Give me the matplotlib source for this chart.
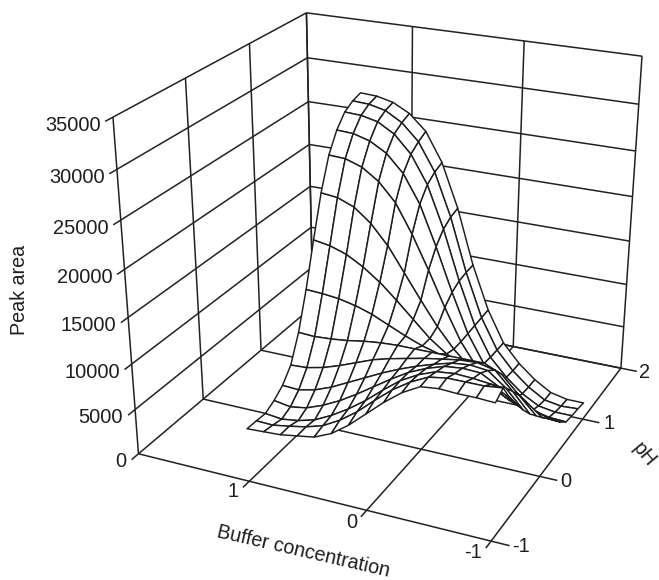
import numpy as np
import matplotlib
matplotlib.use("Agg")
import matplotlib.pyplot as plt
from mpl_toolkits.mplot3d import Axes3D  # noqa

plt.rcParams['font.family'] = ['Liberation Sans', 'DejaVu Sans']

W, H = 659, 580
INK = '#222222'

buffer_ticks = [1, 0, -1]
ph_ticks = [-1, 0, 1, 2]
area_ticks = [0, 5000, 10000, 15000, 20000, 25000, 30000, 35000]

# Mesh positions: coded buffer concentration and pH, 15 x 15
buffer_vals = [1 - k / 7 for k in range(15)]
ph_vals = [-1 + k / 7 for k in range(15)]

# Peak area: rows = pH, columns = buffer concentration
peak_area = np.array([
 [5800,5900,6000,6300,6600,7400,8700,10300,11900,13300,14300,14500,14400,14400,14300],
 [5750,5700,6000,6350,6900,7900,9200,10800,12300,13500,14400,14700,14700,14700,14900],
 [5650,5450,5700,6200,7100,8200,9500,11000,12400,13400,14100,14300,14200,14000,13000],
 [6200,5900,6200,6900,7800,8900,10100,11300,12400,13200,13800,14000,13900,12900,11500],
 [7000,6900,7300,8000,8900,9800,10700,11500,12200,12800,13300,13500,13300,11900,10000],
 [8400,8500,8900,9500,10200,10900,11400,11800,12200,12500,12800,12900,12500,10700,8700],
 [11200,11100,11200,11400,11700,11900,12000,12000,12000,12000,12000,12000,11200,9400,7600],
 [15100,15000,14800,14400,13800,13000,12200,11500,11000,10600,10300,10100,9300,7900,6500],
 [19700,19400,18800,17800,16500,14900,13200,11500,10200,9200,8400,7800,7000,6200,5500],
 [24000,23800,23100,21700,19700,17100,14500,12000,9900,8200,6900,5900,5200,4700,4400],
 [27300,27200,26600,25400,23500,20500,17000,13300,9900,7400,5700,4500,3700,3400,3300],
 [29300,29200,28700,27700,25900,23000,18800,14200,10000,7000,5200,3800,2900,2500,2400],
 [30600,30500,30100,29100,27300,24400,20000,14700,10100,6900,5000,3500,2500,2200,2200],
 [31200,31100,30700,29700,28000,25100,20600,14900,10200,6900,4900,3400,2300,2000,2100],
 [31500,31400,31000,30100,28500,25500,20900,15000,10300,6900,4900,3400,2300,1900,1900],
])

# Camera: fitted to where the box's corners and ticks sit in the reference
cam_world = [(2,-1,0),(1,-1,0),(0,-1,0),(-1,-1,0),(-1,0,0),(-1,1,0),(-1,2,0),
             (2,0,0),(2,1,0),(2,2,0),(2,-1,1),(2,0,1),(2,1,1),(2,2,1),(-1,2,1),
             (-1,2,30/35),(2,-1,30/35)]
cam_pix = [(138,453),(249,481),(367,509),(491,541),(540,477),(582,419),(621,369),
           (204,403),(262,350),(312,304),(113,118),(185,78),(249,43),(307,14),(642,56),
           (639,104),(117,168)]
rows, rhs = [], []
for (a, b, c), (u, v) in zip(cam_world, cam_pix):
    rows.append([a, b, c, 1, 0, 0, 0, 0, -u*a, -u*b, -u*c]); rhs.append(u)
    rows.append([0, 0, 0, 0, a, b, c, 1, -v*a, -v*b, -v*c]); rhs.append(v)
p = np.linalg.lstsq(np.array(rows, float), np.array(rhs, float), rcond=None)[0]
CAM = np.array([p[:4], p[4:8], [p[8], p[9], p[10], 1.0]])
CAM[:, 2] /= 35000.0


def to_pixel(x, y, z):
    u, v, w = CAM @ np.array([x, y, z, 1.0])
    return u / w, v / w


fig = plt.figure(figsize=(W / 100, H / 100), dpi=100, facecolor='white')
ax = fig.add_axes([0, -(W - H) / 2 / H, 1, W / H], projection='3d')
ax.set_axis_off()
ax.computed_zorder = False


def custom_proj():
    ax.apply_aspect()
    inv = ax.transData.inverted().get_matrix()
    flip = np.array([[1, 0, 0], [0, -1, H], [0, 0, 1.0]])
    Q = inv @ flip @ CAM
    s = 1.0 if (Q[2] @ np.array([0, 0, 0, 1.0])) > 0 else -1.0
    return np.array([Q[0], Q[1], [0, 0, 0, -s], Q[2]])


ax.get_proj = custom_proj

lw = 1.1


def seg(a, b):
    ax.plot([a[0], b[0]], [a[1], b[1]], [a[2], b[2]], color=INK, lw=lw, zorder=1,
            solid_capstyle='butt')


XL, XR = 2, -1
YF, YB = -1, 2
ZT = area_ticks[-1]
TX, TY = 0.09, 0.1

# left wall (x = 2) and back wall (pH = 2): levels of peak area
for z in area_ticks:
    seg((XL, YF - TY, z), (XL, YB, z))
    seg((XL, YB, z), (XR, YB, z))
# verticals
for yy in ph_ticks:
    seg((XL, yy, 0), (XL, yy, ZT))
for xx in buffer_ticks + [XL]:
    seg((xx, YB, 0), (xx, YB, ZT))
# floor
for xx in buffer_ticks:
    seg((xx, YF - TY, 0), (xx, YB, 0))
for yy in ph_ticks:
    seg((XL, yy, 0), (XR - TX * 1.6, yy, 0))

XG, YG = np.meshgrid(buffer_vals, ph_vals)
ax.plot_surface(XG, YG, peak_area, rstride=1, cstride=1, color='white', shade=False,
                edgecolor='#1c1c1c', linewidth=1.05, antialiased=True, zorder=2)


def px_text(u, v, s, **kw):
    kw.setdefault('fontsize', 14.4)
    kw.setdefault('color', '#1e1e1e')
    fig.text(u / W, 1 - v / H, s, **kw)


for z in area_ticks:
    u, v = to_pixel(XL, YF, z)
    px_text(u - 12, v + 8, str(z), ha='right', va='center')
for xx, (dx, dy) in zip(buffer_ticks, [(-16, 10), (-15, 12), (-18, 11)]):
    u, v = to_pixel(xx, YF, 0)
    px_text(u + dx, v + dy, str(xx), ha='center', va='center')
for yy, (dx, dy) in zip(ph_ticks, [(30, 5), (26, 5), (26, 4), (24, 4)]):
    u, v = to_pixel(XR, yy, 0)
    px_text(u + dx, v + dy, str(yy), ha='center', va='center')

px_text(303, 552, 'Buffer concentration', rotation=-13, ha='center', va='center',
        rotation_mode='anchor', fontsize=14.2)
px_text(20, 290, 'Peak area', rotation=90, ha='center', va='center', fontsize=14.2)
px_text(644, 455, 'pH', rotation=-50, ha='center', va='center', rotation_mode='anchor',
        fontsize=14.2)

fig.savefig('out.png', dpi=100, facecolor='white')
